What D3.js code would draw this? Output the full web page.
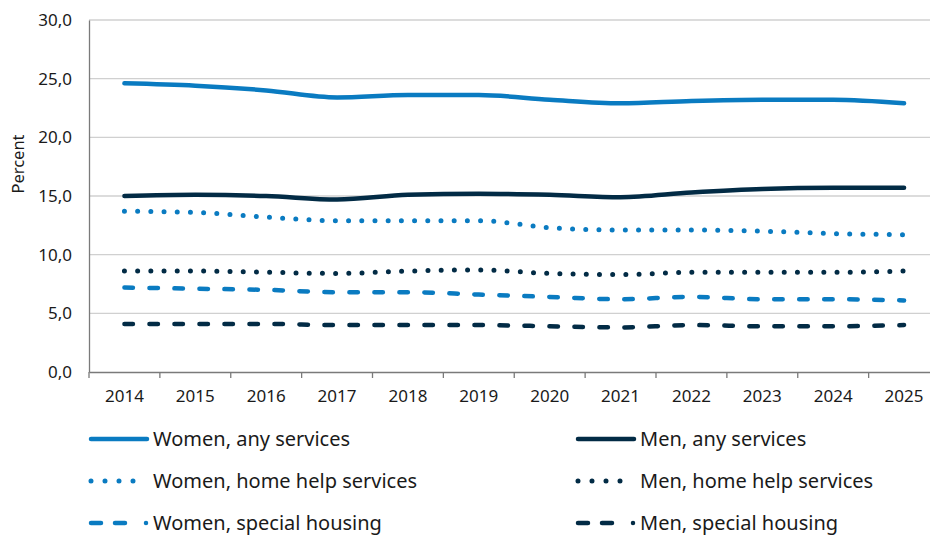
<!DOCTYPE html>
<html><head><meta charset="utf-8">
<script src="https://cdn.jsdelivr.net/npm/d3@7"></script>
<style>body{margin:0;background:#fff}svg{display:block;font-family:"Noto Sans","Open Sans",sans-serif}</style>
</head><body><svg id="c" width="930" height="536"></svg>
<script>
const years = ["2014","2015","2016","2017","2018","2019","2020","2021","2022","2023","2024","2025"];
const womenAny = [24.6,24.4,24.0,23.4,23.6,23.6,23.2,22.9,23.1,23.2,23.2,22.9];
const menAny = [15.0,15.1,15.0,14.7,15.1,15.2,15.1,14.9,15.3,15.6,15.7,15.7];
const womenHome = [13.7,13.6,13.2,12.9,12.9,12.9,12.3,12.1,12.1,12.0,11.8,11.7];
const menHome = [8.6,8.6,8.5,8.4,8.6,8.7,8.4,8.3,8.5,8.5,8.5,8.6];
const womenHousing = [7.2,7.1,7.0,6.8,6.8,6.6,6.4,6.2,6.4,6.2,6.2,6.1];
const menHousing = [4.1,4.1,4.1,4.0,4.0,4.0,3.9,3.8,4.0,3.9,3.9,4.0];
const yTicks = [0,5,10,15,20,25,30];
const yLabel = "Percent";

const WOMEN = "#0a7bc1", MEN = "#022b45";
const styles = {solid:null, dot:"0 13.2", dash:"8.5 16.5"};
const series = [
  {name:"Women, any services", values:womenAny, color:WOMEN, style:"solid", col:0, row:0},
  {name:"Men, any services", values:menAny, color:MEN, style:"solid", col:1, row:0},
  {name:"Women, home help services", values:womenHome, color:WOMEN, style:"dot", col:0, row:1},
  {name:"Men, home help services", values:menHome, color:MEN, style:"dot", col:1, row:1},
  {name:"Women, special housing", values:womenHousing, color:WOMEN, style:"dash", col:0, row:2},
  {name:"Men, special housing", values:menHousing, color:MEN, style:"dash", col:1, row:2}
];

const svg = d3.select("#c");
const L = 89, R = 939.5, T = 20, B = 372;
const x = d3.scaleBand().domain(years).range([L, R]);
const y = d3.scaleLinear().domain([0, 30]).range([B, T]);

// gridlines
svg.append("g").selectAll("line").data(yTicks.filter(d => d > 0)).join("line")
  .attr("x1", L).attr("x2", 930).attr("y1", d => y(d)).attr("y2", d => y(d))
  .attr("stroke", "#d0d0d0").attr("stroke-width", 1.3);

// y axis
const yAxis = svg.append("g").attr("transform", `translate(${L},0)`)
  .call(d3.axisLeft(y).tickValues(yTicks).tickSize(0).tickPadding(17)
    .tickFormat(d => d3.format(".1f")(d).replace(".", ",")));
yAxis.select(".domain").attr("stroke", "#7a7a7a").attr("stroke-width", 1.3);
yAxis.selectAll("text").attr("font-size", 17).attr("fill", "#1a1a1a").attr("font-family", "Noto Sans");

// x axis
const xAxis = svg.append("g").attr("transform", `translate(0,${B})`)
  .call(d3.axisBottom(x).tickSize(0).tickPadding(18));
xAxis.select(".domain").attr("stroke", "#7a7a7a").attr("stroke-width", 1.3);
xAxis.selectAll("text").attr("font-size", 17).attr("fill", "#1a1a1a").attr("font-family", "Noto Sans");
svg.append("g").selectAll("line").data(years.map((d, i) => i)).join("line")
  .attr("x1", i => L + i * x.step()).attr("x2", i => L + i * x.step())
  .attr("y1", B).attr("y2", B + 6).attr("stroke", "#7a7a7a").attr("stroke-width", 1.3);

svg.append("text").attr("transform", `translate(24,164) rotate(-90)`)
  .attr("text-anchor", "middle").attr("font-size", 16.5).attr("fill", "#1a1a1a").text(yLabel);

// lines
const line = d3.line().x((d, i) => x(years[i]) + x.bandwidth() / 2).y(d => y(d)).curve(d3.curveMonotoneX);
svg.append("g").selectAll("path").data(series).join("path")
  .attr("d", d => line(d.values)).attr("fill", "none")
  .attr("stroke", d => d.color).attr("stroke-width", d => d.style === "dot" ? 5 : 4.5)
  .attr("stroke-linecap", "round").attr("stroke-linejoin", "round")
  .attr("stroke-dasharray", d => styles[d.style]);

// legend
const colX = [91, 578], rowY = [439, 481, 523];
const lg = svg.append("g").selectAll("g").data(series).join("g")
  .attr("transform", d => `translate(${colX[d.col]},${rowY[d.row]})`);
lg.append("line").attr("x1", 0).attr("x2", 56).attr("y1", 0).attr("y2", 0)
  .attr("stroke", d => d.color).attr("stroke-width", d => d.style === "dot" ? 5 : 4.5).attr("stroke-linecap", "round")
  .attr("stroke-dasharray", d => d.style === "dot" ? "0 14" : (d.style === "dash" ? "10 14 10 21 0 50" : null));
lg.append("text").attr("x", 62).attr("y", 0).attr("dy", "0.35em")
  .attr("font-size", 20).attr("fill", "#1a1a1a").text(d => d.name);
</script></body></html>
